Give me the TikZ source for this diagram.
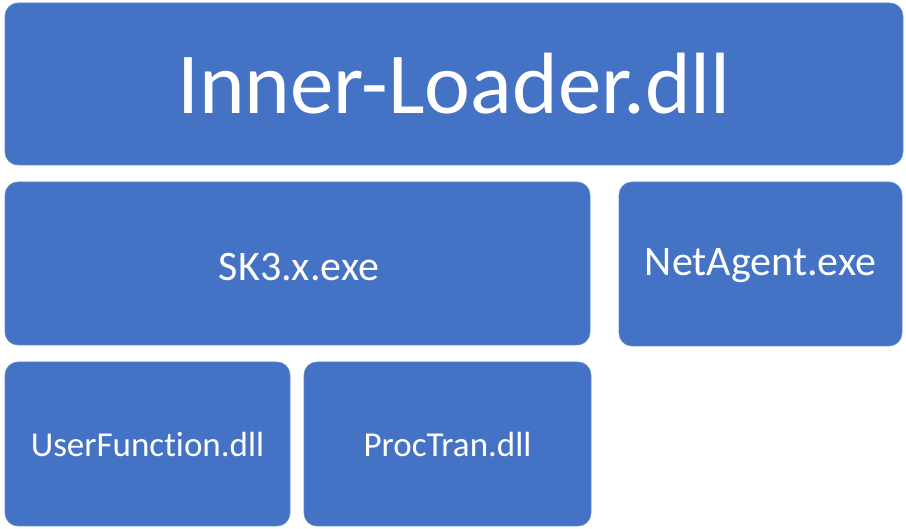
\documentclass[tikz,border=0pt]{standalone}
\usepackage{fontspec}
\setmainfont[Ligatures={NoCommon}]{Carlito}
\definecolor{boxblue}{HTML}{4472C4}
\begin{document}
\begin{tikzpicture}[x=1pt,y=-1pt,
  blk/.style={fill=boxblue,draw=boxblue!85!white,line width=0.6pt,rounded corners=13pt,text=white}]
\useasboundingbox (0,0) rectangle (906,529);
\draw[blk] (5,3) rectangle (903,165);
\draw[blk] (5,182) rectangle (590,345);
\draw[blk] (619,182) rectangle (902,346);
\draw[blk] (5,362) rectangle (290,526);
\draw[blk] (304,362) rectangle (591,526);
\node[text=white,font=\fontsize{87}{90}\selectfont] (top) at (454,84) {Inner-Loader.dll};
\node[text=white,font=\fontsize{42}{46}\selectfont] (sk) at (299,267) {SK3.x.exe};
\node[text=white,font=\fontsize{42}{46}\selectfont] (net) at (760.5,266) {NetAgent.exe};
\node[text=white,font=\fontsize{35}{38}\selectfont] (uf) at (147.5,444) {UserFunction.dll};
\node[text=white,font=\fontsize{35}{38}\selectfont] (pt) at (447.5,444) {ProcTran.dll};
\end{tikzpicture}
\end{document}
